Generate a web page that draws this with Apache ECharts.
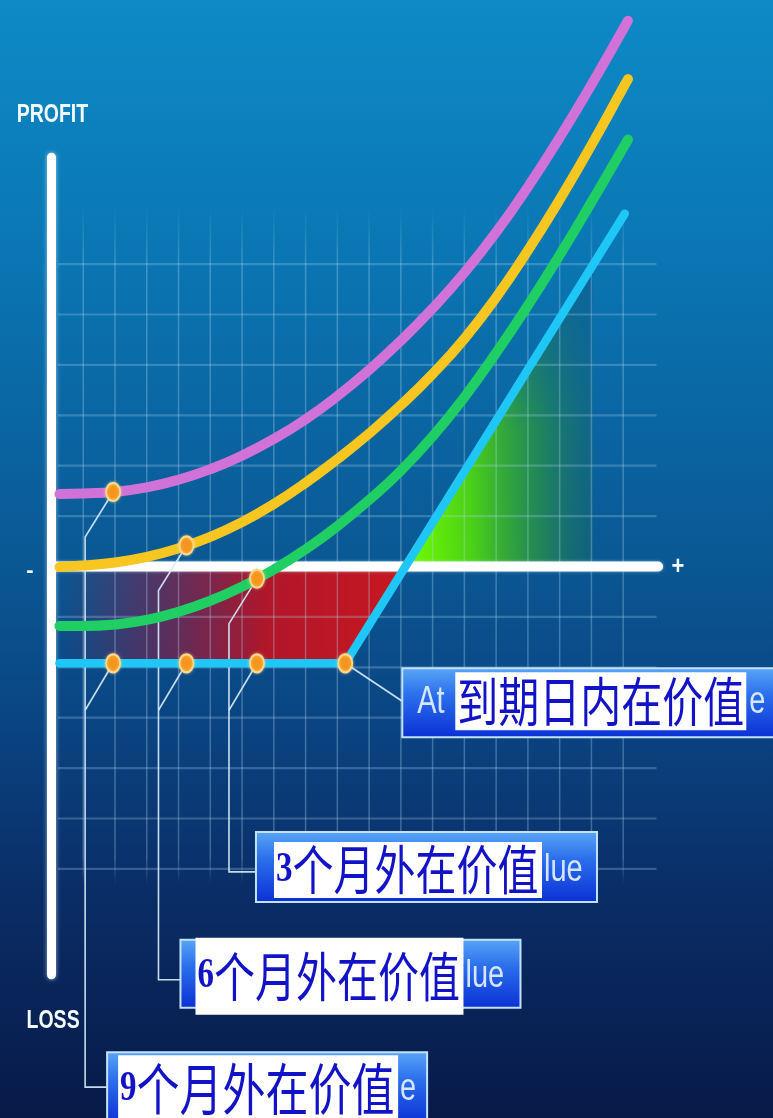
<!DOCTYPE html>
<html>
<head>
<meta charset="utf-8">
<script src="https://cdn.jsdelivr.net/npm/echarts@6/dist/echarts.min.js"></script>
<style>
  html, body { margin: 0; padding: 0; background: #0a5894; }
  #chart { width: 773px; height: 1118px; }
</style>
</head>
<body>
<div id="chart"></div>
<script>
// Underlying price steps at which the option value curves are sampled
const priceSteps = [0.25, 1, 2, 3, 4, 5, 6, 7, 8, 9, 10, 11, 12, 13, 14, 15, 16, 17, 18, 18.15];
// Option value (profit / loss) with 9, 6 and 3 months left to expiry
const value9m = [1.44, 1.45, 1.48, 1.57, 1.72, 1.93, 2.20, 2.53, 2.92, 3.38, 3.90, 4.48, 5.12, 5.83, 6.63, 7.53, 8.51, 9.56, 10.66, 10.83];
const value6m = [-0.01, 0.02, 0.08, 0.19, 0.36, 0.59, 0.88, 1.24, 1.66, 2.13, 2.64, 3.20, 3.82, 4.52, 5.34, 6.27, 7.28, 8.36, 9.50, 9.67];
const value3m = [-1.18, -1.18, -1.15, -1.06, -0.90, -0.68, -0.40, -0.06, 0.34, 0.80, 1.32, 1.90, 2.58, 3.36, 4.24, 5.18, 6.18, 7.23, 8.31, 8.47];
// Payoff at expiry: premium lost up to the strike, then rising one for one
const expiryX = [0.25, 9.25, 18.05];
const expiryY = [-1.92, -1.92, 7.0];
// Price steps where the 9, 6 and 3 month curves are marked
const markX = [1.94, 4.25, 6.47];

// Texts
const monthDigits = ['9', '6', '3'];
const monthLabel = '个月外在价值';
const monthTails = ['e', 'lue', 'lue'];
const expiryLead = 'At';
const expiryLabel = '到期日内在价值';
const expiryTail = 'e';
const axisTopText = 'PROFIT';
const axisBottomText = 'LOSS';
const axisMinusText = '-';
const axisPlusText = '+';

// ---- frame: one x unit = 31.76px, one y unit = 50.4px, origin at (51.5, 566.5)
const W = 773, H = 1118;
const UX = 31.76, UY = 50.4, OX = 51.5, OY = 566.5;
const X_MIN = -1, X_MAX = 22, Y_MIN = -10, Y_MAX = 11;

function interp(xs, ys, x) {
  for (let i = 0; i < xs.length - 1; i++) {
    if (x >= xs[i] && x <= xs[i + 1]) {
      const t = (x - xs[i]) / (xs[i + 1] - xs[i]);
      return ys[i] + t * (ys[i + 1] - ys[i]);
    }
  }
  return ys[ys.length - 1];
}
const curves = [value9m, value6m, value3m];
const curveColors = ['#d172d8', '#f8c620', '#20cf63'];
const expiryColor = '#1fc7f6';

// where the expiry payoff crosses zero
const breakEvenX = expiryX[1] + (0 - expiryY[1]) * (expiryX[2] - expiryX[1]) / (expiryY[2] - expiryY[1]);
const greenEndX = 17.05;

// ---- renderers
function renderFills(params, api) {
  const p = (x, y) => api.coord([x, y]);
  const a = p(0.25, 0), b = p(breakEvenX, 0), c = p(expiryX[1], expiryY[1]), d = p(0.25, expiryY[1]);
  const g1 = p(breakEvenX, 0), g2 = p(greenEndX, interp(expiryX, expiryY, greenEndX)), g3 = p(greenEndX, 0);
  return {
    type: 'group',
    children: [
      { type: 'polygon', shape: { points: [a, b, c, d] },
        style: { fill: { type: 'linear', global: true, x: a[0], y: 0, x2: b[0], y2: 0,
          colorStops: [
            { offset: 0, color: 'rgba(150,20,60,0)' },
            { offset: 0.3, color: 'rgba(150,22,58,0.55)' },
            { offset: 0.6, color: 'rgba(184,20,38,0.96)' },
            { offset: 1, color: '#c8171f' }] } } },
      { type: 'polygon', shape: { points: [g1, g2, g3] },
        style: { fill: { type: 'linear', global: true, x: g1[0], y: 0, x2: g3[0], y2: 0,
          colorStops: [
            { offset: 0, color: '#72ff00' },
            { offset: 0.35, color: '#4cd314' },
            { offset: 0.7, color: 'rgba(38,145,72,0.85)' },
            { offset: 1, color: 'rgba(24,105,105,0.45)' }] } } },
      { type: 'polygon', shape: { points: [g1, g2, g3] },
        style: { fill: { type: 'linear', global: true, x: 0, y: g1[1], x2: 0, y2: g2[1],
          colorStops: [
            { offset: 0, color: 'rgba(10,95,155,0)' },
            { offset: 0.45, color: 'rgba(10,95,155,0.05)' },
            { offset: 1, color: 'rgba(10,100,160,0.9)' }] } } }
    ]
  };
}

function renderGrid(params, api) {
  const children = [];
  const c = 'rgba(175,215,240,0.32)';
  for (let k = 1; k <= 18; k++) {
    const a = api.coord([k, 7.15]), b = api.coord([k, -6.3]);
    children.push({
      type: 'line', shape: { x1: a[0], y1: a[1], x2: b[0], y2: b[1] },
      style: { lineWidth: 1.5, stroke: { type: 'linear', global: true, x: 0, y: a[1], x2: 0, y2: b[1],
        colorStops: [
          { offset: 0, color: 'rgba(175,215,240,0)' },
          { offset: 0.09, color: c },
          { offset: 0.96, color: c },
          { offset: 1, color: 'rgba(175,215,240,0)' }] } }
    });
  }
  for (let r = -6; r <= 6; r++) {
    if (r === 0) continue;
    const a = api.coord([0.2, r]), b = api.coord([19.05, r]);
    children.push({ type: 'line', shape: { x1: a[0], y1: a[1], x2: b[0], y2: b[1] },
      style: { stroke: 'rgba(175,215,240,0.27)', lineWidth: 2.2 } });
  }
  return { type: 'group', children };
}

function axisText(text, pt, size, scaleY) {
  return {
    type: 'group', x: pt[0], y: pt[1], scaleY: scaleY,
    children: [{ type: 'text', style: {
      text, x: 0, y: 0, align: 'center', verticalAlign: 'middle',
      fill: '#f2faff', fontSize: size, fontWeight: 'bold',
      fontFamily: '"Liberation Sans", Arial, sans-serif',
      shadowColor: 'rgba(170,225,255,0.9)', shadowBlur: 4 } }]
  };
}

function renderAxes(params, api) {
  const top = api.coord([0, 8.12]), bot = api.coord([0, -8.1]);
  const l = api.coord([0.15, 0]), r = api.coord([19.1, 0]);
  return {
    type: 'group',
    children: [
      { type: 'line', shape: { x1: top[0], y1: top[1], x2: bot[0], y2: bot[1] },
        style: { stroke: '#ffffff', lineWidth: 9, lineCap: 'round', shadowColor: 'rgba(200,235,255,0.7)', shadowBlur: 4 } },
      { type: 'line', shape: { x1: l[0], y1: l[1], x2: r[0], y2: r[1] },
        style: { stroke: '#ffffff', lineWidth: 10, lineCap: 'round', shadowColor: 'rgba(200,235,255,0.6)', shadowBlur: 3 } },
      axisText(axisTopText, api.coord([0.03, 8.96]), 19.5, 1.3),
      axisText(axisBottomText, api.coord([0.05, -9.02]), 19.5, 1.3),
      axisText(axisMinusText, api.coord([-0.68, -0.09]), 22, 1.0),
      axisText(axisPlusText, api.coord([19.72, 0.0]), 22, 1.2)
    ]
  };
}

// Leader lines and labels are laid out in pixels from the marked points
const LEAD_DX = -28, LEAD_DY = 45;
const monthBoxes = [
  { row: -10.33, dx: 22, up: 35, w: 320, h: 72, wx: 11, wy: 3, ww: 280, wh: 68, font: 43 },   // 9 months
  { row: -8.2, dx: 22, up: 40, w: 340, h: 68, wx: 15, wy: -2, ww: 268, wh: 77, font: 41 },     // 6 months
  { row: -6.06, dx: 27, up: 40, w: 341, h: 70, wx: 18, wy: 10, ww: 268, wh: 56, font: 41 }     // 3 months
];
const expiryBox = { dx: 57, dy: 38, up: 33, w: 380, h: 69, wx: 53, wy: 4, ww: 291, wh: 58 };

function renderLeaders(params, api) {
  const children = [];
  const st = { stroke: 'rgba(215,236,250,0.92)', lineWidth: 1.6, fill: null };
  for (let i = 0; i < 3; i++) {
    const a = api.coord([markX[i], interp(priceSteps, curves[i], markX[i])]);
    const b = api.coord([markX[i], interp(expiryX, expiryY, markX[i])]);
    const lx = a[0] + LEAD_DX;
    const rowY = api.coord([0, monthBoxes[i].row])[1];
    children.push({ type: 'polyline', shape: { points: [a, [lx, a[1] + LEAD_DY], [lx, rowY], [lx + monthBoxes[i].dx, rowY]] }, style: st });
    children.push({ type: 'line', shape: { x1: b[0], y1: b[1], x2: lx, y2: b[1] + LEAD_DY + 2 }, style: st });
  }
  const k = api.coord([expiryX[1], expiryY[1]]);
  children.push({ type: 'line', shape: { x1: k[0], y1: k[1], x2: k[0] + expiryBox.dx, y2: k[1] + expiryBox.dy }, style: st });
  return { type: 'group', children };
}

const boxFill = { type: 'linear', x: 0, y: 0, x2: 0, y2: 1, colorStops: [
  { offset: 0, color: '#5aa6f6' }, { offset: 0.38, color: '#2c70ec' }, { offset: 1, color: '#0a2fd4' }] };
const boxStroke = '#c2e2f8';
const labelBlue = '#1212c6';
const cjkFont = '"Noto Sans CJK SC", sans-serif';

function tailText(text, x, y) {
  return { type: 'group', x, y, scaleY: 1.35, children: [{ type: 'text', style: {
    text, x: 0, y: 0, align: 'left', verticalAlign: 'middle',
    fill: 'rgba(226,240,255,0.93)', fontSize: 29, fontFamily: '"Liberation Sans", Arial, sans-serif' } }] };
}

function renderBoxes(params, api) {
  const children = [];
  for (let i = 0; i < 3; i++) {
    const L = monthBoxes[i];
    const lx = api.coord([markX[i], 0])[0] + LEAD_DX;
    const rowY = api.coord([0, L.row])[1];
    const bx = lx + L.dx, by = rowY - L.up;
    children.push({ type: 'rect', shape: { x: bx, y: by, width: L.w, height: L.h },
      style: { fill: boxFill, stroke: boxStroke, lineWidth: 2 } });
    const wx = bx + L.wx, wy = by + L.wy, cy = wy + L.wh / 2;
    children.push({ type: 'rect', shape: { x: wx, y: wy, width: L.ww, height: L.wh }, style: { fill: '#ffffff' } });
    children.push({ type: 'group', x: wx + 2, y: cy, scaleY: 1.3, children: [{ type: 'text', style: {
      text: '{d|' + monthDigits[i] + '}{c|' + monthLabel + '}', x: 0, y: 0, align: 'left', verticalAlign: 'middle',
      rich: {
        d: { fontFamily: '"Liberation Serif", serif', fontWeight: 'bold', fontSize: 33, fill: labelBlue },
        c: { fontFamily: cjkFont, fontSize: L.font, fill: labelBlue }
      } } }] });
    children.push(tailText(monthTails[i], wx + L.ww + 2, cy));
  }
  // expiry label
  const k = api.coord([expiryX[1], expiryY[1]]);
  const E = expiryBox;
  const bx = k[0] + E.dx, by = k[1] + E.dy - E.up;
  children.push({ type: 'rect', shape: { x: bx, y: by, width: E.w, height: E.h },
    style: { fill: boxFill, stroke: boxStroke, lineWidth: 2 } });
  const wx = bx + E.wx, wy = by + E.wy, cy = wy + E.wh / 2;
  children.push({ type: 'rect', shape: { x: wx, y: wy, width: E.ww, height: E.wh }, style: { fill: '#ffffff' } });
  children.push(tailText(expiryLead, bx + 15, cy + 1));
  children.push({ type: 'group', x: wx + 2, y: cy, scaleY: 1.3, children: [{ type: 'text', style: {
    text: expiryLabel, x: 0, y: 0, align: 'left', verticalAlign: 'middle',
    fill: labelBlue, fontSize: 41, fontFamily: cjkFont } }] });
  children.push(tailText(expiryTail, wx + E.ww + 3, cy + 1));
  return { type: 'group', children };
}

// ---- series
const curveSeries = curves.map((vals, i) => ({
  type: 'line', z: 5, smooth: 0.5, symbol: 'none', clip: false, silent: true,
  data: priceSteps.map((x, j) => [x, vals[j]]),
  lineStyle: { color: curveColors[i], width: 10, cap: 'round', join: 'round' }
}));

const dotData = [];
for (let i = 0; i < 3; i++) {
  dotData.push([markX[i], interp(priceSteps, curves[i], markX[i])]);
  dotData.push([markX[i], interp(expiryX, expiryY, markX[i])]);
}
dotData.push([expiryX[1], expiryY[1]]);

const single = [[0, 0]];
const option = {
  animation: false,
  backgroundColor: { type: 'linear', x: 0, y: 0, x2: 0, y2: 1, colorStops: [
    { offset: 0, color: '#0e8ac6' },
    { offset: 0.22, color: '#0a77b4' },
    { offset: 0.5, color: '#0a5894' },
    { offset: 0.64, color: '#0a4583' },
    { offset: 0.8, color: '#0a2d66' },
    { offset: 1, color: '#071a48' }] },
  grid: {
    left: OX + X_MIN * UX, right: W - (OX + X_MAX * UX),
    top: OY - Y_MAX * UY, bottom: H - (OY - Y_MIN * UY),
    outerBoundsMode: 'none'
  },
  xAxis: { type: 'value', min: X_MIN, max: X_MAX, show: false },
  yAxis: { type: 'value', min: Y_MIN, max: Y_MAX, show: false },
  series: [
    { type: 'custom', z: 1, clip: false, silent: true, data: single, renderItem: renderFills },
    { type: 'custom', z: 2, clip: false, silent: true, data: single, renderItem: renderGrid },
    { type: 'custom', z: 3, clip: false, silent: true, data: single, renderItem: renderAxes },
    { type: 'custom', z: 4, clip: false, silent: true, data: single, renderItem: renderLeaders },
    ...curveSeries,
    { type: 'line', z: 5, symbol: 'none', clip: false, silent: true,
      data: expiryX.map((x, j) => [x, expiryY[j]]),
      lineStyle: { color: expiryColor, width: 8.5, cap: 'round', join: 'round' } },
    { type: 'scatter', z: 6, clip: false, silent: true, data: dotData,
      symbol: 'circle', symbolSize: [14, 18],
      itemStyle: { color: '#f5951c', borderColor: '#ffd98a', borderWidth: 2, opacity: 1,
        shadowColor: 'rgba(255,220,150,0.6)', shadowBlur: 3 } },
    { type: 'custom', z: 7, clip: false, silent: true, data: single, renderItem: renderBoxes }
  ]
};

const chart = echarts.init(document.getElementById('chart'), null, { renderer: 'canvas', width: W, height: H });
chart.setOption(option);
</script>
</body>
</html>
